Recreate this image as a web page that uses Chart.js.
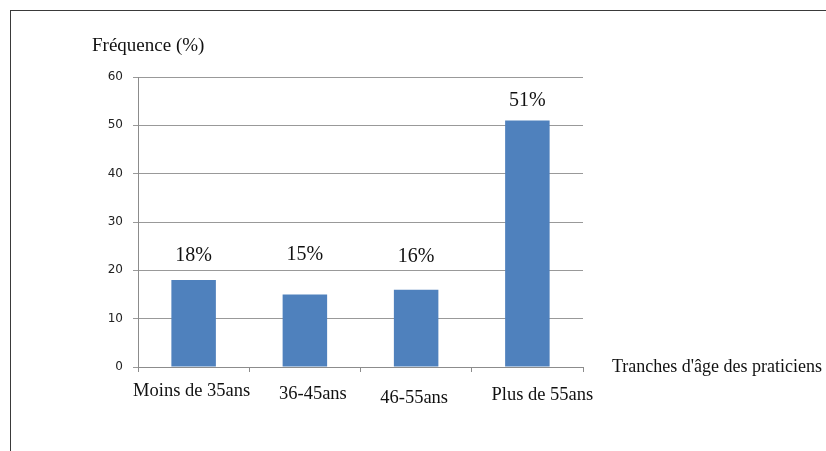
<!DOCTYPE html>
<html>
<head>
<meta charset="utf-8">
<script src="https://cdn.jsdelivr.net/npm/chart.js@4.4.1/dist/chart.umd.min.js"></script>
<style>
  html, body { margin: 0; padding: 0; background: #fff; }
  #wrap { position: relative; width: 826px; height: 451px; }
  #frame {
    position: absolute; left: 10px; top: 10px; right: 0; bottom: 0;
    border-top: 1px solid #3a3a3a; border-left: 1px solid #3a3a3a;
    pointer-events: none;
  }
</style>
</head>
<body>
<div id="wrap">
  <canvas id="chart" width="826" height="451"></canvas>
  <div id="frame"></div>
</div>
<script>
const categories = ["Moins de 35ans", "36-45ans", "46-55ans", "Plus de 55ans"];
const frequencies = [18, 15, 16, 51];
const valueLabels = ["18%", "15%", "16%", "51%"];
const yTicks = [0, 10, 20, 30, 40, 50, 60];

const SERIF = "'Liberation Serif', 'Times New Roman', serif";
// the labels in the original sit at slightly uneven places
const labelDrops = [0, 3, 7, 4];
const labelShifts = [-2, 8, -2, 15];
const valueRise = [24, 40, 33, 20];

const overlay = {
  id: "overlay",
  afterDatasetsDraw(chart) {
    const ctx = chart.ctx;
    const area = chart.chartArea;
    const meta = chart.getDatasetMeta(0);
    const xScale = chart.scales.x;
    ctx.save();
    ctx.fillStyle = "#111";

    // value labels above bars
    ctx.font = `20px ${SERIF}`;
    ctx.textAlign = "center";
    ctx.textBaseline = "middle";
    meta.data.forEach((bar, i) => {
      ctx.fillText(valueLabels[i], bar.x, bar.y - valueRise[i]);
    });

    // category labels
    ctx.font = `18.5px ${SERIF}`;
    categories.forEach((cat, i) => {
      ctx.fillText(cat, xScale.getPixelForValue(i) + labelShifts[i], area.bottom + 24 + labelDrops[i]);
    });

    // axis titles
    ctx.textAlign = "left";
    ctx.font = `19px ${SERIF}`;
    ctx.fillText("Fréquence (%)", 92, 46);
    ctx.font = `18px ${SERIF}`;
    ctx.fillText("Tranches d'âge des praticiens", area.right + 29, area.bottom);
    ctx.restore();
  }
};

new Chart(document.getElementById("chart"), {
  type: "bar",
  data: {
    labels: categories,
    datasets: [{
      data: frequencies,
      backgroundColor: "#4f81bd",
      barPercentage: 0.8,
      categoryPercentage: 0.5
    }]
  },
  options: {
    responsive: false,
    animation: false,
    layout: { padding: { top: 77, right: 243, bottom: 0, left: 0 } },
    plugins: { legend: { display: false }, tooltip: { enabled: false } },
    scales: {
      x: {
        ticks: { display: false },
        grid: { drawOnChartArea: false, drawTicks: true, tickLength: 5, color: "#8c8c8c" },
        border: { color: "#8c8c8c" },
        afterFit: (scale) => { scale.height = 84; }
      },
      y: {
        min: 0,
        max: 60,
        afterBuildTicks: (scale) => { scale.ticks = yTicks.map((v) => ({ value: v })); },
        ticks: {
          color: "#222",
          padding: 10,
          font: { family: "'DejaVu Sans', Verdana, sans-serif", size: 12 }
        },
        grid: { color: "#999", tickLength: 5 },
        border: { color: "#8c8c8c" },
        afterFit: (scale) => { scale.width = 138; }
      }
    }
  },
  plugins: [overlay]
});
</script>
</body>
</html>
